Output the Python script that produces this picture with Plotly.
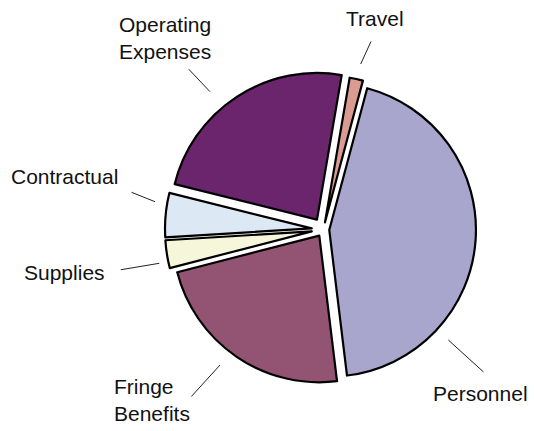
import plotly.graph_objects as go

# ---- data ----
categories = ["Travel", "Personnel", "Fringe Benefits", "Supplies", "Contractual", "Operating Expenses"]
values = [1.47, 43.9, 22.9, 3.06, 4.86, 23.8]
label_texts = ["Travel", "Personnel", "Fringe<br>Benefits", "Supplies", "Contractual", "Operating<br>Expenses"]

# ---- style ----
colors = ["#DA9C92", "#A9A6CD", "#925472", "#F6F7DA", "#DCE9F5", "#6A256D"]
pulls = [0.05, 0.04, 0.05, 0.08, 0.08, 0.08]

W, H = 534, 431
cx, cy, R = 323.4, 229.5, 146.7
S = 2 * R * (1 + max(pulls))
dom_x = [(cx - S / 2) / W, (cx + S / 2) / W]
dom_y = [1 - (cy + S / 2) / H, 1 - (cy - S / 2) / H]

fig = go.Figure(go.Pie(
    labels=categories, values=values, sort=False, direction="clockwise",
    rotation=9.7, pull=pulls, textinfo="none", hoverinfo="label+percent",
    marker=dict(colors=colors, line=dict(color="black", width=2.2)),
    domain=dict(x=dom_x, y=dom_y), showlegend=False,
))

# label layout (pixel positions of text and leader lines)
text_pos = [(375, 18, "center"), (480.5, 393, "center"), (112, 400, "left"),
            (64, 272, "center"), (64, 177, "center"), (165, 38, "center")]
leaders = [((360.7, 64), (371.7, 40)), ((448.3, 340), (485, 373.3)), ((220, 365), (190, 398)),
           ((159.3, 263.3), (119.3, 270)), ((155, 201.7), (130, 191.7)), ((210, 91.7), (187.3, 67.7))]

annotations = []
for txt, (tx, ty, anc) in zip(label_texts, text_pos):
    annotations.append(dict(
        text=txt, x=tx / W, y=1 - ty / H, xref="paper", yref="paper",
        xanchor=anc, yanchor="middle", align=anc if anc != "center" else "center",
        showarrow=False, font=dict(family="Liberation Sans, Arial", size=21, color="#111"),
    ))
for (hx, hy), (tx, ty) in leaders:
    annotations.append(dict(
        text="", x=hx / W, y=1 - hy / H, xref="paper", yref="paper",
        showarrow=True, arrowhead=0, arrowwidth=1, arrowcolor="#222",
        ax=tx - hx, ay=ty - hy,
    ))

fig.update_layout(
    width=W, height=H, margin=dict(l=0, r=0, t=0, b=0),
    paper_bgcolor="white", plot_bgcolor="white", annotations=annotations,
)

fig.write_html("out.html", post_script="document.body.style.margin='0';",
               config={"displayModeBar": False})
